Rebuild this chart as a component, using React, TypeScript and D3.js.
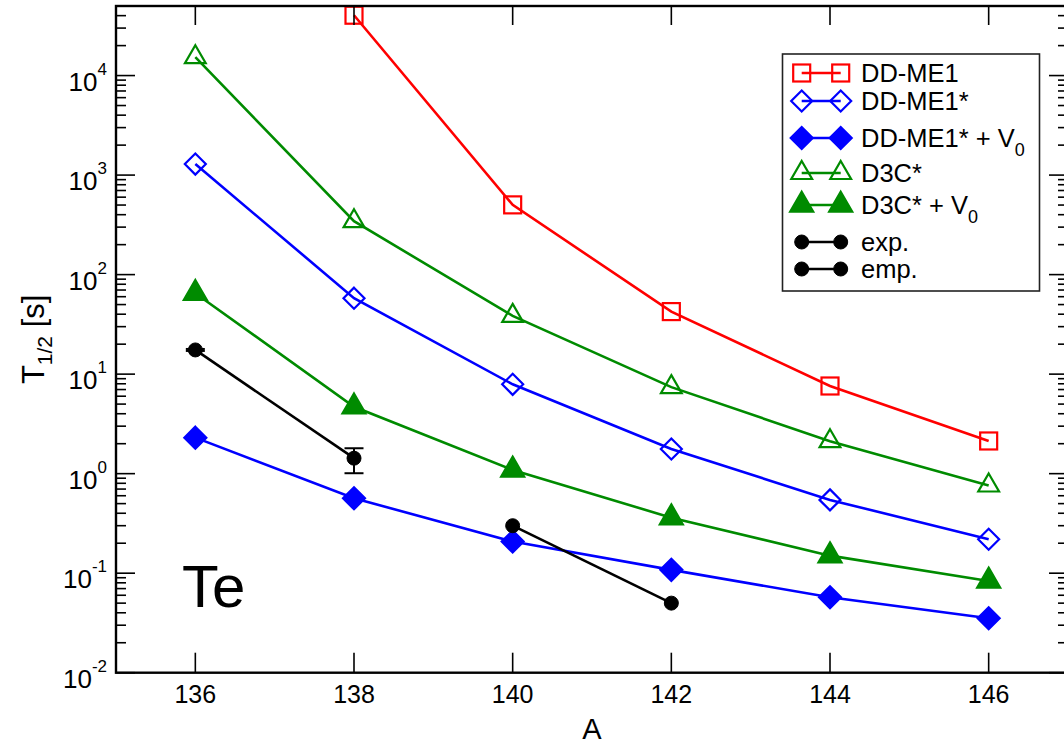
import React from 'react';
import * as d3 from 'd3';

// ---------- data ----------
const massNumbers = [136, 138, 140, 142, 144, 146];
const ddme1: (number | null)[] = [null, 40400, 502, 42.5, 7.6, 2.13];
const ddme1Star = [1290, 58, 7.9, 1.77, 0.545, 0.219];
const ddme1StarV0 = [2.3, 0.566, 0.208, 0.108, 0.0573, 0.0352];
const d3cStar = [15300, 344, 38.5, 7.4, 2.12, 0.76];
const d3cStarV0 = [65, 4.7, 1.09, 0.361, 0.15, 0.0836];
const expMass = [136, 138];
const expVals = [17.5, 1.43];
const expLow = [17.1, 1.01];
const expHigh = [17.9, 1.8];
const empMass = [140, 142];
const empVals = [0.3, 0.05];
const xTickValues = [136, 138, 140, 142, 144, 146];
const yTickExponents = [-2, -1, 0, 1, 2, 3, 4];

const RED = '#ff0000';
const BLUE = '#0000ff';
const GREEN = '#008b00';
const FONT = "'Liberation Sans', Arial, Helvetica, sans-serif";

const W = 1064;
const H = 745;
const x = d3.scaleLinear().domain([135, 147]).range([116, 1068]);
const y = d3.scaleLog().domain([0.01, 50000]).range([672.7, 6]);

type Shape = 'square' | 'diamond' | 'triangle' | 'triangleBig' | 'circle';

function Marker({ cx, cy, shape, color, filled }: { cx: number; cy: number; shape: Shape; color: string; filled: boolean }) {
  const fill = filled ? color : 'none';
  const sw = 2.2;
  if (shape === 'square') {
    return <rect x={cx - 8.5} y={cy - 8.5} width={17} height={17} fill={fill} stroke={color} strokeWidth={sw} />;
  }
  if (shape === 'diamond') {
    const r = filled ? 11 : 10.5;
    return <path d={`M${cx},${cy - r}L${cx + r},${cy}L${cx},${cy + r}L${cx - r},${cy}Z`} fill={fill} stroke={color} strokeWidth={sw} />;
  }
  if (shape === 'triangle' || shape === 'triangleBig') {
    const R = shape === 'triangleBig' ? 13.3 : 12;
    const hw = R * 0.866;
    return <path d={`M${cx},${cy - R}L${cx + hw},${cy + R / 2}L${cx - hw},${cy + R / 2}Z`} fill={fill} stroke={color} strokeWidth={sw} strokeLinejoin="miter" />;
  }
  return <circle cx={cx} cy={cy} r={7} fill={color} stroke={color} strokeWidth={1} />;
}

interface Series {
  name: string;
  sub?: string;
  masses: number[];
  values: (number | null)[];
  color: string;
  shape: Shape;
  filled: boolean;
}

const seriesList: Series[] = [
  { name: 'DD-ME1', masses: massNumbers, values: ddme1, color: RED, shape: 'square', filled: false },
  { name: 'DD-ME1*', masses: massNumbers, values: ddme1Star, color: BLUE, shape: 'diamond', filled: false },
  { name: 'DD-ME1* + V', sub: '0', masses: massNumbers, values: ddme1StarV0, color: BLUE, shape: 'diamond', filled: true },
  { name: 'D3C*', masses: massNumbers, values: d3cStar, color: GREEN, shape: 'triangle', filled: false },
  { name: 'D3C* + V', sub: '0', masses: massNumbers, values: d3cStarV0, color: GREEN, shape: 'triangleBig', filled: true },
  { name: 'exp.', masses: expMass, values: expVals, color: '#000000', shape: 'circle', filled: true },
  { name: 'emp.', masses: empMass, values: empVals, color: '#000000', shape: 'circle', filled: true },
];

const legendRowY = [73, 101, 138, 173, 205, 242, 269];

export default function App() {
  const line = d3
    .line<[number, number | null]>()
    .defined((d) => d[1] !== null)
    .x((d) => x(d[0]))
    .y((d) => y(d[1] as number));

  const minorTicks: number[] = [];
  for (let e = -2; e <= 4; e++) {
    for (let m = 2; m <= 9; m++) {
      const v = m * Math.pow(10, e);
      if (v <= 50000) minorTicks.push(v);
    }
  }

  const left = x.range()[0];
  const right = x.range()[1];
  const top = y.range()[1];
  const bottom = y.range()[0];

  return (
    <svg width={W} height={H} style={{ position: 'absolute', left: 0, top: 0, background: '#fff' }} fontFamily={FONT}>
      <rect x={0} y={0} width={W} height={H} fill="#fff" />
      {/* series lines */}
      {seriesList.map((s) => (
        <path
          key={s.name + 'l'}
          d={line(s.masses.map((m, i) => [m, s.values[i]] as [number, number | null])) || ''}
          fill="none"
          stroke={s.color}
          strokeWidth={2.6}
        />
      ))}
      {/* error bars for exp */}
      {expMass.map((m, i) => (
        <g key={'eb' + i} stroke="#000" strokeWidth={2}>
          <line x1={x(m)} x2={x(m)} y1={y(expLow[i])} y2={y(expHigh[i])} />
          <line x1={x(m) - 9.5} x2={x(m) + 9.5} y1={y(expLow[i])} y2={y(expLow[i])} />
          <line x1={x(m) - 9.5} x2={x(m) + 9.5} y1={y(expHigh[i])} y2={y(expHigh[i])} />
        </g>
      ))}
      {/* markers */}
      {seriesList.map((s) =>
        s.masses.map((m, i) =>
          s.values[i] === null ? null : (
            <Marker key={s.name + i} cx={x(m)} cy={y(s.values[i] as number)} shape={s.shape} color={s.color} filled={s.filled} />
          )
        )
      )}
      {/* frame */}
      <rect x={left} y={top} width={right - left} height={bottom - top} fill="none" stroke="#000" strokeWidth={2.4} />
      {/* x ticks */}
      {xTickValues.map((t) => (
        <g key={'xt' + t} stroke="#000" strokeWidth={1.6}>
          <line x1={x(t)} x2={x(t)} y1={bottom} y2={bottom - 20} />
          <line x1={x(t)} x2={x(t)} y1={top} y2={top + 19} />
        </g>
      ))}
      {xTickValues.map((t) => (
        <text key={'xl' + t} x={x(t)} y={703} textAnchor="middle" fontSize={25} fill="#000">
          {t}
        </text>
      ))}
      {/* y ticks */}
      {yTickExponents.map((e) => (
        <g key={'yt' + e} stroke="#000" strokeWidth={1.6}>
          <line x1={left} x2={left + 19} y1={y(Math.pow(10, e))} y2={y(Math.pow(10, e))} />
          <line x1={right} x2={right - 19} y1={y(Math.pow(10, e))} y2={y(Math.pow(10, e))} />
        </g>
      ))}
      {minorTicks.map((v, i) => (
        <g key={'ym' + i} stroke="#000" strokeWidth={1.6}>
          <line x1={left} x2={left + 10} y1={y(v)} y2={y(v)} />
          <line x1={right} x2={right - 10} y1={y(v)} y2={y(v)} />
        </g>
      ))}
      {yTickExponents.map((e) => (
        <text key={'yl' + e} x={107} y={y(Math.pow(10, e)) + 15} textAnchor="end" fontSize={26} fill="#000">
          <tspan>10</tspan>
          <tspan dy={-16} fontSize={17}>{e}</tspan>
        </text>
      ))}
      {/* axis titles */}
      <text x={(left + right) / 2} y={739} textAnchor="middle" fontSize={29} fill="#000">
        A
      </text>
      <text transform={`translate(44,${(top + bottom) / 2}) rotate(-90)`} textAnchor="middle" fontSize={31} fill="#000">
        <tspan>T</tspan>
        <tspan dy={8} fontSize={21}>1/2</tspan>
        <tspan dy={-8}> [s]</tspan>
      </text>
      {/* element label */}
      <text x={182} y={607} fontSize={60} fill="#000">
        Te
      </text>
      {/* legend */}
      <rect x={782.5} y={54} width={257} height={237} fill="#fff" stroke="#222" strokeWidth={1.6} />
      {seriesList.map((s, i) => {
        const ly = legendRowY[i];
        return (
          <g key={'lg' + i}>
            <line x1={801.7} x2={840.7} y1={ly} y2={ly} stroke={s.color} strokeWidth={2.4} />
            <Marker cx={801.7} cy={ly} shape={s.shape} color={s.color} filled={s.filled} />
            <Marker cx={840.7} cy={ly} shape={s.shape} color={s.color} filled={s.filled} />
            <text x={861} y={ly + 9} fontSize={25.5} fill="#000">
              <tspan>{s.name}</tspan>
              {s.sub ? (
                <tspan dy={9} fontSize={18}>
                  {s.sub}
                </tspan>
              ) : null}
            </text>
          </g>
        );
      })}
    </svg>
  );
}
